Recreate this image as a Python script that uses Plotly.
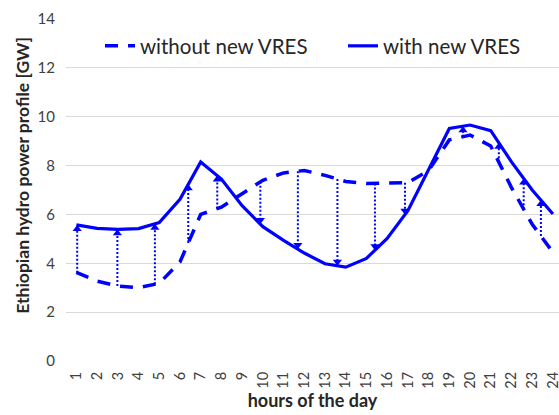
import numpy as np
import plotly.graph_objects as go

# ---------------- data ----------------
hours = list(range(1, 25))
hour_labels = [str(h) for h in hours]
without_vres = [3.63, 3.27, 3.07, 3.00, 3.18, 4.05, 6.00, 6.30, 6.85, 7.40, 7.70, 7.80,
                7.60, 7.35, 7.27, 7.27, 7.30, 7.80, 9.05, 9.25, 8.80, 7.10, 5.60, 4.45]
with_vres = [5.57, 5.43, 5.39, 5.42, 5.67, 6.62, 8.15, 7.45, 6.36, 5.50, 4.94, 4.42,
             3.98, 3.84, 4.20, 5.02, 6.15, 7.82, 9.52, 9.66, 9.43, 8.15, 7.00, 6.02]
# hours (fractional) at which the shift arrows are drawn
arrow_hours = [1.04, 2.98, 4.79, 6.40, 7.80, 9.88, 11.69, 13.60, 15.41, 16.86,
               19.66, 21.39, 22.59, 23.42]
y_ticks = [0, 2, 4, 6, 8, 10, 12, 14]

# ---------------- styling ----------------
BLUE = "#0000FF"
TEXT = "#404040"
GRID = "#D9D9D9"
FONT = "Lato"
W, H = 559, 415
M_L, M_R, M_T, M_B = 66, 0, 19, 54
plot_h = H - M_T - M_B
y_max = 14
px_per_unit = plot_h / y_max

fig = go.Figure()

fig.add_trace(go.Scatter(
    x=hours, y=without_vres, mode="lines", name="without new VRES",
    line=dict(color=BLUE, width=3.5, dash="13px,10px"),
    legend="legend"))
fig.add_trace(go.Scatter(
    x=hours, y=with_vres, mode="lines", name="with new VRES",
    line=dict(color=BLUE, width=3.2),
    legend="legend2"))

# arrows: dotted shaft from the "without" profile to the "with" profile
a_start = np.interp(arrow_hours, hours, without_vres)
a_end = np.interp(arrow_hours, hours, with_vres)
head_size = 8
tip_off = (head_size / 2) / px_per_unit
sx, sy, hx, hy, hs = [], [], [], [], []
for xh, y0, y1 in zip(arrow_hours, a_start, a_end):
    d = 1 if y1 > y0 else -1
    yc = y1 - d * tip_off
    sx += [xh, xh, None]
    sy += [y0, yc, None]
    hx.append(xh)
    hy.append(yc)
    hs.append("triangle-up" if d > 0 else "triangle-down")

fig.add_trace(go.Scatter(x=sx, y=sy, mode="lines", showlegend=False,
                         line=dict(color=BLUE, width=2, dash="2px,2px"),
                         hoverinfo="skip"))
fig.add_trace(go.Scatter(x=hx, y=hy, mode="markers", showlegend=False,
                         marker=dict(symbol=hs, size=head_size, color=BLUE,
                                     line=dict(width=0)),
                         hoverinfo="skip"))

plot_w = W - M_L - M_R
px_per_hour = 20.72
x_hi = 0.5 + plot_w / px_per_hour

fig.update_layout(
    width=W, height=H,
    margin=dict(l=M_L, r=M_R, t=M_T, b=M_B, autoexpand=False),
    paper_bgcolor="white", plot_bgcolor="white",
    font=dict(family=FONT, color=TEXT, size=15),
    legend=dict(orientation="h", xref="container", yref="container",
                x=100 / W, y=1 - 46 / H, xanchor="left", yanchor="middle",
                font=dict(size=20.5, color="#262626", family=FONT),
                bgcolor="rgba(0,0,0,0)"),
    legend2=dict(orientation="h", xref="container", yref="container",
                 x=343 / W, y=1 - 46 / H, xanchor="left", yanchor="middle",
                 font=dict(size=20.5, color="#262626", family=FONT),
                 bgcolor="rgba(0,0,0,0)"),
    xaxis=dict(range=[0.5, x_hi], tickvals=hours, ticktext=hour_labels,
               tickangle=-90, showgrid=False, zeroline=False,
               showline=False, ticks="", ticklabelstandoff=7,
               ticklabeloverflow="allow",
               tickfont=dict(size=14.5, color=TEXT, family=FONT),
               title=dict(text="<b>hours of the day</b>", standoff=6,
                          font=dict(size=18, color="#262626", family=FONT))),
    yaxis=dict(range=[0, y_max], tickvals=y_ticks, showgrid=True,
               gridcolor=GRID, gridwidth=1, zeroline=False, showline=False,
               ticks="", ticklabelstandoff=10,
               tickfont=dict(size=15, color=TEXT, family=FONT)),
    annotations=[dict(text="<b>Ethiopian hydro power profile [GW]</b>",
                      xref="paper", yref="paper",
                      x=(21.7 - M_L) / plot_w, y=(H - M_B - 175) / plot_h,
                      textangle=-90, showarrow=False,
                      xanchor="center", yanchor="middle",
                      font=dict(size=17.5, color="#262626", family=FONT))],
)

fig.write_html("out.html",
               config={"displayModeBar": False},
               post_script="document.body.style.margin='0';"
                           "document.body.style.overflow='hidden';")
